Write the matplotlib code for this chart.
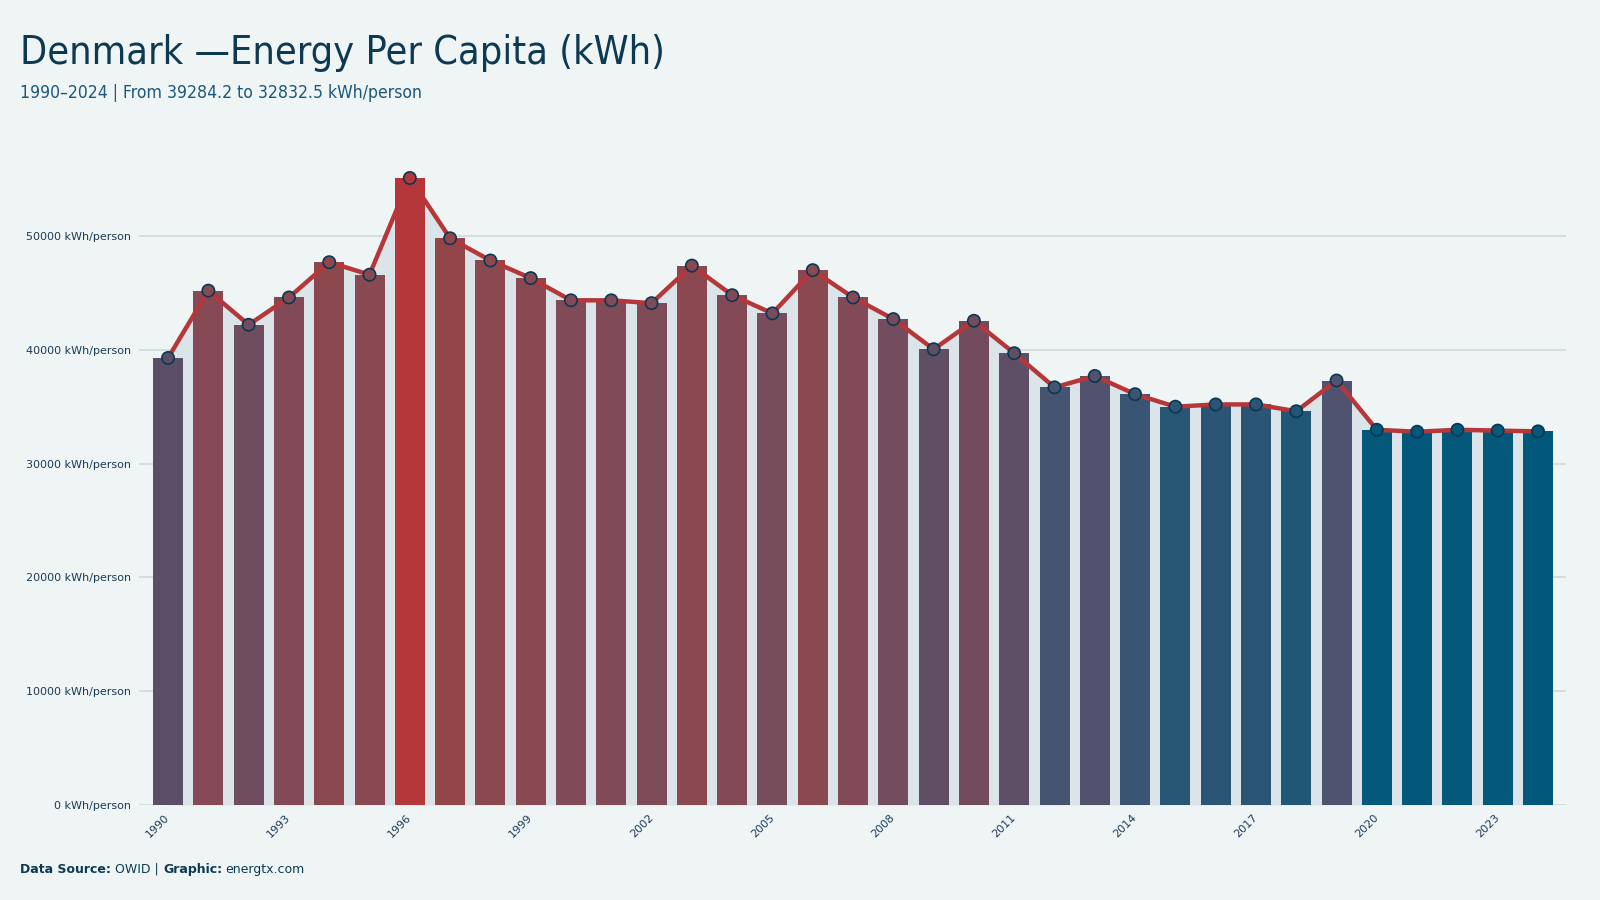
import matplotlib
matplotlib.use("Agg")
import matplotlib.pyplot as plt
import numpy as np
from matplotlib.colors import LinearSegmentedColormap, Normalize
from matplotlib import font_manager as fm

years = list(range(1990, 2025))
values = [39284.2, 45200, 42200, 44600, 47700, 46600, 55100, 49800, 47850, 46300,
          44350, 44350, 44100, 47400, 44800, 43200, 47000, 44600, 42700, 40050,
          42550, 39700, 36700, 37700, 36100, 35000, 35200, 35200, 34600, 37300,
          32970, 32800, 32970, 32900, 32832.5]
tick_years = [1990, 1993, 1996, 1999, 2002, 2005, 2008, 2011, 2014, 2017, 2020, 2023]
yticks = [0, 10000, 20000, 30000, 40000, 50000]

title = "Denmark \u2014Energy Per Capita (kWh)"
subtitle = "1990\u20132024 | From 39284.2 to 32832.5 kWh/person"

BG = "#eff5f5"
NAVY = "#0d3a52"
RED = "#b5373a"

# pick a condensed font if one is installed
cond = None
for f in fm.fontManager.ttflist:
    nm = f.name.lower()
    st = str(f.stretch).lower()
    if f.weight in (400, "normal", "regular") and f.style == "normal" and (
            "condensed" in nm or "narrow" in nm or st in ("condensed", "semi-condensed")):
        cond = f
        break
if cond is not None:
    title_fp = fm.FontProperties(fname=cond.fname)
else:
    title_fp = fm.FontProperties(family="Roboto")

cmap = LinearSegmentedColormap.from_list("energy", [
    (0.0, "#02587a"), (0.2, "#4f5370"), (0.3, "#5c4f67"),
    (0.55, "#854a55"), (0.75, "#91464b"), (1.0, "#b5373a")])
norm = Normalize(vmin=min(values), vmax=max(values))
colors = [cmap(norm(v)) for v in values]

fig = plt.figure(figsize=(16, 9), dpi=100, facecolor=BG)
ax = fig.add_axes([0.0869, 0.1056, 0.892, 0.7333], facecolor=BG)

x = np.arange(len(years))
ax.set_axisbelow(True)
ax.yaxis.grid(True, color="#d3dee3", linewidth=1.4, zorder=0)
ax.fill_between(x, values, 0, color="#dae4e9", zorder=1, linewidth=0)
ax.bar(x, values, width=0.745, color=colors, zorder=2)
ax.plot(x, values, color=RED, linewidth=3.2, zorder=3, solid_joinstyle="round")
ax.scatter(x, values, s=78, c=colors, edgecolors="#0b3850", linewidths=1.2, zorder=4)

ax.set_xlim(-0.72, len(years) - 1 + 0.7)
ax.set_ylim(0, 58000)
ax.set_yticks(yticks)
ax.set_yticklabels([f"{v} kWh/person" for v in yticks])
tick_pos = [years.index(y) for y in tick_years]
ax.set_xticks(tick_pos)
ax.set_xticklabels([str(y) for y in tick_years], rotation=45, ha="right",
                   va="center", rotation_mode="anchor")
ax.tick_params(axis="y", length=0, labelsize=8, labelcolor="#1b3a57", pad=6)
ax.tick_params(axis="x", length=0, labelsize=8, labelcolor="#1b3a57", pad=8)
for s in ax.spines.values():
    s.set_visible(False)

r = fig.canvas.get_renderer()

def fitted_text(xf, yf, s, target_px, size, color):
    fp = title_fp.copy()
    fp.set_size(size)
    t = fig.text(xf, yf, s, fontproperties=fp, color=color, ha="left", va="baseline")
    w = t.get_window_extent(r).width
    if w > target_px * 1.03:
        fp.set_size(size * target_px / w)
        t.set_fontproperties(fp)
    return t

fitted_text(0.0128, 0.929, title, 645, 36, NAVY)
fitted_text(0.0128, 0.891, subtitle, 402, 15, "#1d5878")

fx = 0.0128
fy = 0.0305
fs = 9
t1 = fig.text(fx, fy, "Data Source:", fontsize=fs, weight="bold", color=NAVY, ha="left", va="baseline")
bb = t1.get_window_extent(r)
t2 = fig.text(bb.x1 / 1600 + 0.002, fy, "OWID |", fontsize=fs, color=NAVY, ha="left", va="baseline")
bb = t2.get_window_extent(r)
t3 = fig.text(bb.x1 / 1600 + 0.003, fy, "Graphic:", fontsize=fs, weight="bold", color=NAVY, ha="left", va="baseline")
bb = t3.get_window_extent(r)
fig.text(bb.x1 / 1600 + 0.002, fy, "energtx.com", fontsize=fs, color=NAVY, ha="left", va="baseline")

fig.savefig("out.png", dpi=100, facecolor=BG)
